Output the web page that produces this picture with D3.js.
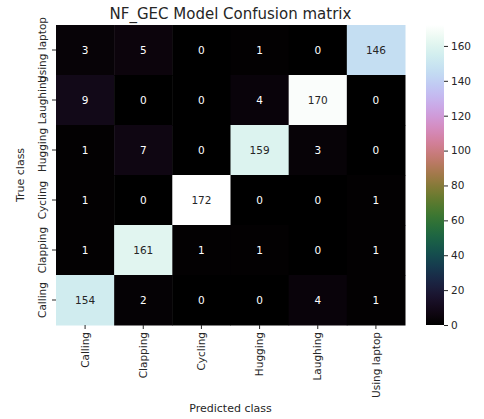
<!DOCTYPE html>
<html><head><meta charset="utf-8">
<script src="https://cdn.jsdelivr.net/npm/d3@7"></script>
<style>body{margin:0;background:#fff}text{font-family:"DejaVu Sans",sans-serif}</style>
</head><body><svg id="c" width="484" height="419"></svg>
<script>
const trueClasses = ["Using laptop","Laughing","Hugging","Cycling","Clapping","Calling"];
const predClasses = ["Calling","Clapping","Cycling","Hugging","Laughing","Using laptop"];
const matrix = [
  [3,5,0,1,0,146],
  [9,0,0,4,170,0],
  [1,7,0,159,3,0],
  [1,0,172,0,0,1],
  [1,161,1,1,0,1],
  [154,2,0,0,4,1]
];
const cbTicks = [0,20,40,60,80,100,120,140,160];
const vmax = 172;

const svg = d3.select("#c");
const L=56,R=405,T=25,B=325;
const x = d3.scaleBand().domain(predClasses).range([L,R]);
const y = d3.scaleBand().domain(trueClasses).range([T,B]);
const color = v => d3.interpolateCubehelixDefault(v/vmax);

const cells=[];
matrix.forEach((row,i)=>row.forEach((v,j)=>cells.push({r:trueClasses[i],c:predClasses[j],v})));
svg.selectAll("rect.cell").data(cells).enter().append("rect")
  .attr("x",d=>x(d.c)).attr("y",d=>y(d.r))
  .attr("width",x.bandwidth()+0.5).attr("height",y.bandwidth()+0.5)
  .attr("fill",d=>color(d.v));
function lum(c){const o=d3.rgb(c);const f=v=>{v/=255;return v<=0.03928?v/12.92:Math.pow((v+0.055)/1.055,2.4)};return 0.2126*f(o.r)+0.7152*f(o.g)+0.0722*f(o.b);}
svg.selectAll("text.ann").data(cells).enter().append("text")
  .attr("x",d=>x(d.c)+x.bandwidth()/2).attr("y",d=>y(d.r)+y.bandwidth()/2)
  .attr("text-anchor","middle").attr("dominant-baseline","central")
  .attr("font-size",10.5).attr("fill",d=>lum(color(d.v))>0.408?"#262626":"#fff")
  .text(d=>d.v);

// x axis
const xa = svg.append("g").attr("transform",`translate(0,${B})`)
  .call(d3.axisBottom(x).tickSize(4).tickPadding(3));
xa.select(".domain").remove();
xa.selectAll(".tick text").attr("font-size",10.5).attr("fill","#262626")
  .attr("transform","rotate(-90)").attr("text-anchor","end")
  .attr("x",-7).attr("y",0).attr("dy","0.35em")
  .style("font-family","DejaVu Sans");
xa.selectAll("line").attr("stroke","#262626");
// y axis
const ya = svg.append("g").attr("transform",`translate(${L},0)`)
  .call(d3.axisLeft(y).tickSize(4).tickPadding(3));
ya.select(".domain").remove();
ya.selectAll(".tick text").attr("font-size",10.5).attr("fill","#262626")
  .attr("transform","rotate(-90)").attr("text-anchor","middle")
  .attr("x",0).attr("y",-10).attr("dy","0")
  .style("font-family","DejaVu Sans");
ya.selectAll("line").attr("stroke","#262626");

svg.append("text").attr("x",(L+R)/2).attr("y",19).attr("text-anchor","middle")
  .attr("font-size",15).attr("fill","#262626").text("NF_GEC Model Confusion matrix");
svg.append("text").attr("x",(L+R)/2).attr("y",412).attr("text-anchor","middle")
  .attr("font-size",11).attr("fill","#262626").text("Predicted class");
svg.append("text").attr("transform",`translate(24,${(T+B)/2}) rotate(-90)`).attr("text-anchor","middle")
  .attr("font-size",11).attr("fill","#262626").text("True class");

// colorbar
const cbX=426,cbW=18;
const cy = d3.scaleLinear().domain([0,vmax]).range([B,T]);
const defs=svg.append("defs");
const grad=defs.append("linearGradient").attr("id","g").attr("x1",0).attr("y1",1).attr("x2",0).attr("y2",0);
d3.range(0,1.0001,0.02).forEach(t=>grad.append("stop").attr("offset",t).attr("stop-color",d3.interpolateCubehelixDefault(t)));
svg.append("rect").attr("x",cbX).attr("y",T).attr("width",cbW).attr("height",B-T).attr("fill","url(#g)");
const ca=svg.append("g").attr("transform",`translate(${cbX+cbW},0)`)
  .call(d3.axisRight(cy).tickValues(cbTicks).tickSize(4).tickPadding(3));
ca.select(".domain").remove();
ca.selectAll("text").attr("font-size",10.5).attr("fill","#262626").style("font-family","DejaVu Sans");
ca.selectAll("line").attr("stroke","#262626");
</script></body></html>
